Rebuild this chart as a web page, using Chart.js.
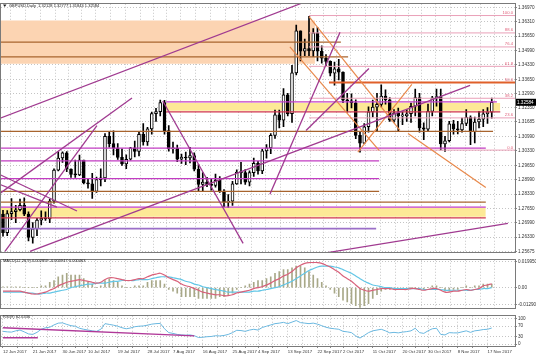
<!DOCTYPE html>
<html><head><meta charset="utf-8">
<script src="https://cdn.jsdelivr.net/npm/chart.js@4.4.1/dist/chart.umd.min.js"></script>
<style>
html,body{margin:0;padding:0;background:#fff;}
#wrap{position:relative;width:536px;height:358px;overflow:hidden;background:#fff;}
canvas{position:absolute;left:0;}
</style></head><body>
<div id="wrap">
<canvas id="cMain" style="top:0px" width="536" height="256"></canvas>
<canvas id="cMacd" style="top:256px" width="536" height="56"></canvas>
<canvas id="cRsi" style="top:312px" width="536" height="46"></canvas>
</div>
<script>
// ---------- data ----------
const titleText = 'GBPUSD,Daily  1.32128 1.32777 1.31844 1.32584';
const macdTitle = 'MACD(12,26,9) 0.002859 -0.000947 0.000463';
const rsiTitle = 'RSI(9) 62.6336';

const dateTickIdx = [0,7,14,20,27,34,40,47,54,60,67,74,80,87,94,100,107,114];
const dateTickLabels = ['12 Jun 2017','21 Jun 2017','30 Jun 2017','10 Jul 2017','19 Jul 2017','28 Jul 2017','7 Aug 2017','16 Aug 2017','25 Aug 2017','4 Sep 2017','13 Sep 2017','22 Sep 2017','2 Oct 2017','11 Oct 2017','20 Oct 2017','30 Oct 2017','8 Nov 2017','17 Nov 2017'];
const priceTickLabels = ['1.36970','1.36310','1.35650','1.34990','1.34330','1.33650','1.32990','1.32350','1.31685','1.30990','1.30330','1.29650','1.28990','1.28330','1.27650','1.26990','1.26330','1.25675'];
const macdTickLabels = ['0.019950','0.00','-0.012900'];
const rsiTickLabels = ['100','70','30','0'];

const open = [1.2740,1.2654,1.2742,1.2751,1.2760,1.2781,1.2740,1.2632,1.2672,1.2712,1.2720,1.2718,1.2800,1.2944,1.3000,1.3024,1.2949,1.2924,1.2922,1.2990,1.2885,1.2880,1.2845,1.2900,1.2908,1.3100,1.3067,1.3046,1.3003,1.2972,1.2994,1.3047,1.3030,1.3110,1.3074,1.3135,1.3206,1.3215,1.3257,1.3127,1.3042,1.3045,1.2994,1.3004,1.3000,1.3011,1.2948,1.2878,1.2888,1.2875,1.2873,1.2896,1.2844,1.2795,1.2800,1.2880,1.2935,1.2932,1.2888,1.2932,1.2975,1.2940,1.3033,1.3047,1.3105,1.3200,1.3175,1.3293,1.3205,1.3395,1.3590,1.3495,1.3507,1.3497,1.3580,1.3495,1.3463,1.3448,1.3393,1.3414,1.3398,1.3268,1.3265,1.3256,1.3105,1.3069,1.3145,1.3214,1.3236,1.3249,1.3287,1.3270,1.3175,1.3208,1.3195,1.3195,1.3205,1.3240,1.3280,1.3140,1.3134,1.3216,1.3279,1.3285,1.3065,1.3080,1.3158,1.3135,1.3130,1.3160,1.3188,1.3122,1.3167,1.3180,1.3205,1.32128];
const high = [1.2757,1.2756,1.2812,1.2780,1.2810,1.2815,1.2750,1.2700,1.2720,1.2755,1.2750,1.2810,1.2950,1.3030,1.3029,1.3030,1.2950,1.2990,1.3013,1.2990,1.2905,1.2929,1.2911,1.2950,1.3113,1.3124,1.3126,1.3067,1.3042,1.3015,1.3050,1.3079,1.3120,1.3160,1.3142,1.3213,1.3230,1.3268,1.3267,1.3150,1.3074,1.3060,1.3018,1.3028,1.3050,1.3024,1.2970,1.2932,1.2910,1.2903,1.2926,1.2914,1.2853,1.2830,1.2892,1.2945,1.2980,1.2946,1.2941,1.3000,1.2984,1.3040,1.3062,1.3113,1.3222,1.3222,1.3322,1.3300,1.3430,1.3616,1.3590,1.3552,1.3657,1.3600,1.3606,1.3520,1.3480,1.3450,1.3445,1.3457,1.3400,1.3300,1.3298,1.3270,1.3123,1.3160,1.3237,1.3268,1.3300,1.3339,1.3316,1.3280,1.3224,1.3232,1.3214,1.3225,1.3255,1.3320,1.3300,1.3163,1.3250,1.3286,1.3320,1.3320,1.3100,1.3170,1.3175,1.3170,1.3185,1.3225,1.3195,1.3190,1.3216,1.3224,1.3234,1.32777];
const low = [1.2637,1.2640,1.2714,1.2700,1.2755,1.2732,1.2615,1.2605,1.2640,1.2690,1.2710,1.2700,1.2790,1.2940,1.2980,1.2937,1.2910,1.2910,1.2918,1.2880,1.2860,1.2812,1.2840,1.2870,1.2890,1.3050,1.3014,1.2993,1.2966,1.2951,1.2990,1.3005,1.3010,1.3060,1.3058,1.3111,1.3170,1.3195,1.3110,1.3032,1.3022,1.2983,1.2975,1.2969,1.2977,1.2940,1.2844,1.2845,1.2867,1.2851,1.2865,1.2840,1.2774,1.2771,1.2780,1.2877,1.2880,1.2877,1.2871,1.2915,1.2925,1.2927,1.2999,1.3020,1.3091,1.3140,1.3145,1.3195,1.3165,1.3385,1.3450,1.3474,1.3474,1.3470,1.3450,1.3440,1.3428,1.3381,1.3338,1.3362,1.3256,1.3212,1.3232,1.3090,1.3027,1.3066,1.3120,1.3190,1.3125,1.3237,1.3250,1.3170,1.3166,1.3124,1.3154,1.3170,1.3165,1.3195,1.3120,1.3085,1.3124,1.3195,1.3240,1.3038,1.3030,1.3075,1.3110,1.3112,1.3120,1.3150,1.3062,1.3070,1.3140,1.3145,1.3160,1.31844];
const close = [1.2654,1.2742,1.2751,1.2760,1.2781,1.2740,1.2632,1.2672,1.2712,1.2720,1.2718,1.2800,1.2944,1.3000,1.3024,1.2949,1.2924,1.2922,1.2990,1.2885,1.2880,1.2845,1.2900,1.2908,1.3100,1.3067,1.3046,1.3003,1.2972,1.2994,1.3047,1.3030,1.3110,1.3074,1.3135,1.3206,1.3215,1.3257,1.3127,1.3042,1.3045,1.2994,1.3004,1.3000,1.3011,1.2948,1.2878,1.2888,1.2875,1.2873,1.2896,1.2844,1.2795,1.2800,1.2880,1.2935,1.2932,1.2888,1.2932,1.2975,1.2940,1.3033,1.3047,1.3105,1.3200,1.3175,1.3293,1.3205,1.3395,1.3590,1.3495,1.3507,1.3497,1.3580,1.3495,1.3463,1.3448,1.3393,1.3414,1.3398,1.3268,1.3265,1.3256,1.3105,1.3069,1.3145,1.3214,1.3236,1.3249,1.3287,1.3270,1.3175,1.3208,1.3195,1.3195,1.3205,1.3240,1.3280,1.3140,1.3134,1.3216,1.3279,1.3285,1.3065,1.3080,1.3158,1.3135,1.3130,1.3160,1.3188,1.3122,1.3167,1.3180,1.3205,1.3213,1.32584];

const macdMain = [-0.0027,-0.0027,-0.0027,-0.0027,-0.0027,-0.0034,-0.0041,-0.0048,-0.0048,-0.0041,-0.0034,-0.0020,-0.0007,0.0014,0.0027,0.0041,0.0048,0.0054,0.0061,0.0054,0.0048,0.0041,0.0034,0.0041,0.0061,0.0075,0.0075,0.0068,0.0061,0.0054,0.0054,0.0061,0.0068,0.0068,0.0082,0.0095,0.0102,0.0109,0.0095,0.0075,0.0061,0.0048,0.0027,0.0014,0.0007,-0.0007,-0.0020,-0.0034,-0.0041,-0.0048,-0.0054,-0.0054,-0.0061,-0.0061,-0.0054,-0.0041,-0.0034,-0.0027,-0.0020,-0.0007,0.0000,0.0007,0.0020,0.0034,0.0054,0.0068,0.0088,0.0102,0.0122,0.0150,0.0170,0.0184,0.0190,0.0190,0.0190,0.0184,0.0170,0.0156,0.0136,0.0116,0.0088,0.0068,0.0048,0.0020,-0.0007,-0.0020,-0.0027,-0.0020,-0.0014,-0.0007,-0.0007,-0.0007,-0.0014,-0.0014,-0.0014,-0.0014,-0.0007,-0.0007,-0.0014,-0.0020,-0.0014,-0.0007,-0.0007,-0.0020,-0.0034,-0.0034,-0.0027,-0.0027,-0.0020,-0.0014,-0.0020,-0.0014,-0.0007,0.0014,0.0020,0.0029];
const macdSignal = [-0.0034,-0.0034,-0.0034,-0.0034,-0.0034,-0.0034,-0.0041,-0.0041,-0.0048,-0.0048,-0.0041,-0.0041,-0.0034,-0.0027,-0.0020,-0.0014,0.0000,0.0007,0.0014,0.0020,0.0027,0.0027,0.0034,0.0034,0.0034,0.0041,0.0048,0.0048,0.0054,0.0054,0.0054,0.0054,0.0061,0.0061,0.0061,0.0068,0.0075,0.0082,0.0082,0.0082,0.0075,0.0068,0.0061,0.0048,0.0041,0.0027,0.0020,0.0007,0.0000,-0.0007,-0.0014,-0.0020,-0.0027,-0.0034,-0.0034,-0.0034,-0.0034,-0.0034,-0.0034,-0.0027,-0.0027,-0.0020,-0.0014,-0.0007,0.0000,0.0007,0.0020,0.0034,0.0048,0.0068,0.0088,0.0109,0.0129,0.0143,0.0156,0.0163,0.0163,0.0163,0.0156,0.0150,0.0136,0.0122,0.0109,0.0088,0.0068,0.0048,0.0034,0.0020,0.0014,0.0007,0.0000,0.0000,-0.0007,-0.0007,-0.0007,-0.0007,-0.0007,-0.0007,-0.0007,-0.0014,-0.0014,-0.0014,-0.0014,-0.0014,-0.0020,-0.0020,-0.0020,-0.0020,-0.0020,-0.0020,-0.0020,-0.0014,-0.0014,-0.0007,-0.0007,0.0000];
const macdHist = [0.0007,0.0007,0.0007,0.0007,0.0007,0,0,0,0,0.0014,0.0014,0.0041,0.0054,0.0082,0.0095,0.0109,0.0095,0.0095,0.0095,0.0068,0.0041,0.0027,0.0000,0.0014,0.0054,0.0068,0.0054,0.0041,0.0014,0.0000,0.0000,0.0014,0.0014,0.0014,0.0041,0.0054,0.0054,0.0054,0.0027,-0.0014,-0.0027,-0.0041,-0.0068,-0.0068,-0.0068,-0.0068,-0.0082,-0.0082,-0.0082,-0.0082,-0.0082,-0.0068,-0.0068,-0.0054,-0.0041,-0.0014,0.0000,0.0014,0.0027,0.0041,0.0054,0.0054,0.0068,0.0082,0.0109,0.0122,0.0136,0.0136,0.0150,0.0163,0.0163,0.0150,0.0122,0.0095,0.0068,0.0041,0.0014,-0.0014,-0.0041,-0.0068,-0.0095,-0.0109,-0.0122,-0.0136,-0.0150,-0.0136,-0.0122,-0.0082,-0.0054,-0.0027,-0.0014,-0.0014,-0.0014,-0.0014,-0.0014,-0.0014,0.0000,0.0000,-0.0014,-0.0014,0.0000,0.0014,0.0014,0.0000,-0.0027,-0.0027,-0.0014,-0.0014,0.0000,0.0014,0.0000,0.0014,0.0014,0.0027,0.0027,0.0027];
const rsi = [50,48,47,52,55,48,40,38,46,58,64,66,75,82,83,77,72,70,62,58,55,52,50,58,80,77,74,70,64,60,63,68,70,71,74,78,80,81,60,45,42,38,36,35,36,33,26,27,29,30,33,32,34,38,45,54,53,50,55,58,55,65,70,75,80,82,85,80,86,92,84,82,80,82,78,72,66,62,60,58,50,48,45,32,24,34,45,52,55,58,52,44,46,44,47,49,52,62,45,42,52,60,62,38,36,45,44,44,48,52,46,52,54,57,58,63];

// drawn objects: zones [top, bottom, fromBar, toBar]
const orangeZones = [[1.36378,1.34374,-0.5,73.4]];
const yellowZones = [[1.32552,1.32188,38.4,117],[1.27679,1.27270,-0.5,113.6]];
// horizontal levels [price, fromBar, toBar]
const brownLevels = [[1.35376,-0.5,79.5],[1.34693,-0.5,81.2],[1.31232,-0.5,115.3],[1.28454,-0.5,88.5],[1.27952,-0.5,113.6]];
const magentaLevels = [[1.32598,38.4,116.2],[1.30457,-0.5,113.6],[1.29865,-0.5,88.5],[1.29045,-0.5,88.5],[1.27725,-0.5,113.6]];
const redLevels = [[1.27224,-0.5,113.6],[1.32142,38.4,117]];
const lavenderLevels = [[1.26723,-0.5,87.8]];
const fibLevels = [1.36606,1.35800,1.35150,1.34250,1.33500,1.32770,1.31860,1.30366];
const fibNames = ['100.0','88.6','76.4','61.8','50.0','38.2','23.6','0.0'];
const fibFrom = [72,72,72,72,76.7,72,72,72];
// trend lines [bar1, price1, bar2, price2]
const purpleTrends = [[-0.5,1.3186,70.6,1.3720],[37.6,1.32643,56.5,1.26040],[62.8,1.2832,79.3,1.3583],[6.35,1.25675,109.9,1.33372],[75.3,1.2558,118.8,1.2697],
  [0.47,1.25675,22.1,1.31505],[-0.7,1.28362,30.35,1.3278],[-0.7,1.29228,17.4,1.27543],[-0.7,1.28772,12.7,1.27725],[71.3,1.31277,86.1,1.34146]];
const orangeTrends = [[72,1.3656,93.4,1.3128],[67.5,1.3515,88.5,1.3035],[83.5,1.30275,96.2,1.33418],[95.3,1.31141,113.6,1.28636]];
const rsiTrends = [[0,64,45,32],[0,25,8.2,25]];

// ---------- helpers ----------
const N = close.length;
const X_MIN = -0.47, X_MAX = 120.47;
const FONT = "'Liberation Sans', Arial, sans-serif";
const GRID = '#c4c4c4';
const xGridVals = [];
dateTickIdx.forEach((v,k)=>{ xGridVals.push(v); if(k<dateTickIdx.length-1) xGridVals.push((v+dateTickIdx[k+1])/2); });

function xScale(showLabels){
  return {
    type:'linear', min:X_MIN, max:X_MAX, offset:false,
    afterBuildTicks:s=>{ s.ticks = xGridVals.map(v=>({value:v})); },
    grid:{color:GRID, lineWidth:1, drawTicks:showLabels, tickLength:2, tickColor:'#888'},
    border:{display:false, dash:[1,2]},
    ticks:{display:showLabels, autoSkip:false, maxRotation:0, align:'start', padding:1, color:'#333',
      font:{family:FONT,size:4.3}, callback:(v)=>{ const k=dateTickIdx.indexOf(v); return k>=0?dateTickLabels[k]:''; }},
    afterFit:s=>{ s.height = showLabels?12:0; }
  };
}
function yAxis(min,max,vals,labels){
  return {
    type:'linear', position:'right', min, max,
    afterBuildTicks:s=>{ s.ticks = vals.map(v=>({value:v})); },
    grid:{color:GRID, tickLength:2, tickColor:'#888'},
    border:{display:false, dash:[1,2]},
    ticks:{autoSkip:false, padding:1, color:'#333', font:{family:FONT,size:4.6},
      callback:(v)=>{ const k=vals.indexOf(v); return k>=0?labels[k]:''; }},
    afterFit:s=>{ s.width = 21; }
  };
}
function seg(a,color,width,order){
  return {type:'line', data:[{x:a[0],y:a[1]},{x:a[2],y:a[3]}], borderColor:color, borderWidth:width,
    pointRadius:0, fill:false, tension:0, order:order||1};
}
function level(l,color,width){ return seg([l[1],l[0],l[2],l[0]],color,width,2); }
function zone(z,color){
  return {type:'line', data:[{x:z[2],y:z[0]},{x:z[3],y:z[0]}], borderWidth:0, pointRadius:0,
    backgroundColor:color, fill:{value:z[1]}, order:20};
}
const frame = {id:'frame', afterDraw(c){
  const a=c.chartArea, x=c.ctx; x.save(); x.strokeStyle='#7a7a7a'; x.lineWidth=1;
  x.strokeRect(Math.round(a.left)-0.5, Math.round(a.top)-0.5, Math.round(a.right-a.left)+1, Math.round(a.bottom-a.top)+1);
  x.restore();
}};

// ---------- main chart ----------
const bodyColors = close.map((c,i)=> c>=open[i] ? '#ffffff' : '#000000');
const mainDatasets = [];
orangeZones.forEach(z=>mainDatasets.push(zone(z,'rgba(252,212,178,1)')));
yellowZones.forEach(z=>mainDatasets.push(zone(z,'rgba(253,233,150,1)')));
mainDatasets.push({type:'bar', data:close.map((c,i)=>({x:i,y:[low[i],high[i]]})), backgroundColor:'#000', barThickness:1, grouped:false, order:8});
mainDatasets.push({type:'bar', data:close.map((c,i)=>({x:i,y:[open[i],c]})), backgroundColor:bodyColors, borderColor:'#000', borderWidth:1, borderSkipped:false, barThickness:3, minBarLength:1, grouped:false, order:7});
brownLevels.forEach(l=>mainDatasets.push(level(l,'#a8642e',1.2)));
magentaLevels.forEach(l=>mainDatasets.push(level(l,'#c23cc2',1.2)));
redLevels.forEach(l=>mainDatasets.push(level(l,'#d0344a',1.2)));
lavenderLevels.forEach(l=>mainDatasets.push(level(l,'#9b6fc8',1.8)));
fibLevels.forEach((p,k)=>mainDatasets.push(level([p,fibFrom[k],X_MAX], k===4?'#e0602a':'#eaa0b8', k===4?1.8:1)));
purpleTrends.forEach(t=>mainDatasets.push(seg(t,'#a03a90',1.3)));
orangeTrends.forEach(t=>mainDatasets.push(seg(t,'#e8884a',1.2)));

const mainOverlay = {id:'mainOverlay', afterDraw(c){
  const x=c.ctx, a=c.chartArea, ys=c.scales.y;
  x.save();
  x.font = '4px '+FONT; x.fillStyle='#222'; x.textBaseline='middle'; x.textAlign='left';
  x.beginPath(); x.moveTo(3,4.5); x.lineTo(6.5,4.5); x.lineTo(4.75,7); x.closePath(); x.fill();
  x.fillText(titleText, 9, 5.5);
  x.font = '4.2px '+FONT;
  x.fillStyle='#e0607a'; x.textAlign='right'; x.textBaseline='bottom';
  fibLevels.forEach((p,k)=>{ x.fillText(fibNames[k], a.right-2, ys.getPixelForValue(p)-0.5); });
  const yp = ys.getPixelForValue(close[N-1]);
  x.font = '4.6px '+FONT;
  x.fillStyle='#000'; x.fillRect(a.right+1, yp-3.5, 20, 7);
  x.fillStyle='#fff'; x.textAlign='left'; x.textBaseline='middle'; x.fillText(close[N-1].toFixed(5), a.right+2, yp+0.5);
  x.restore();
}};

new Chart(document.getElementById('cMain'), {
  type:'bar',
  data:{datasets:mainDatasets},
  options:{responsive:false, animation:false, events:[],
    layout:{padding:{left:1,top:1,right:0,bottom:2}},
    plugins:{legend:{display:false}, tooltip:{enabled:false}},
    scales:{ x:xScale(false), y:yAxis(1.25630,1.37152,priceTickLabels.map(parseFloat),priceTickLabels) }
  },
  plugins:[frame, mainOverlay]
});

// ---------- MACD ----------
const macdOverlay = {id:'macdOverlay', afterDraw(c){
  const x=c.ctx; x.save(); x.font='4px '+FONT; x.fillStyle='#222'; x.textBaseline='middle'; x.fillText(macdTitle,3,5); x.restore();
}};
new Chart(document.getElementById('cMacd'), {
  type:'bar',
  data:{datasets:[
    {type:'bar', data:macdHist.map((v,i)=>({x:i,y:v})), backgroundColor:'#a8a888', barThickness:1, grouped:false, order:5},
    {type:'line', data:macdSignal.map((v,i)=>({x:i,y:v})), borderColor:'#62c6e6', borderWidth:1.2, pointRadius:0, tension:0.3, order:2},
    {type:'line', data:macdMain.map((v,i)=>({x:i,y:v})), borderColor:'#d8607a', borderWidth:1.2, pointRadius:0, tension:0.3, order:1}
  ]},
  options:{responsive:false, animation:false, events:[],
    layout:{padding:{left:1,top:1,right:0,bottom:1}},
    plugins:{legend:{display:false}, tooltip:{enabled:false}},
    scales:{ x:xScale(false), y:yAxis(-0.0156,0.0211,macdTickLabels.map(parseFloat),macdTickLabels) }
  },
  plugins:[frame, macdOverlay]
});

// ---------- RSI ----------
const rsiOverlay = {id:'rsiOverlay', afterDraw(c){
  const x=c.ctx; x.save(); x.font='4px '+FONT; x.fillStyle='#222'; x.textBaseline='middle'; x.fillText(rsiTitle,3,5); x.restore();
}};
new Chart(document.getElementById('cRsi'), {
  type:'line',
  data:{datasets:[
    {data:rsi.map((v,i)=>({x:i,y:v})), borderColor:'#6ab8e0', borderWidth:1, pointRadius:0, tension:0, order:3},
    ...rsiTrends.map(t=>seg(t,'#b03898',1.3))
  ]},
  options:{responsive:false, animation:false, events:[],
    layout:{padding:{left:1,top:1,right:0,bottom:0}},
    plugins:{legend:{display:false}, tooltip:{enabled:false}},
    scales:{ x:xScale(true), y:yAxis(-7.1,110.7,rsiTickLabels.map(parseFloat),rsiTickLabels) }
  },
  plugins:[frame, rsiOverlay]
});
</script>
</body></html>
